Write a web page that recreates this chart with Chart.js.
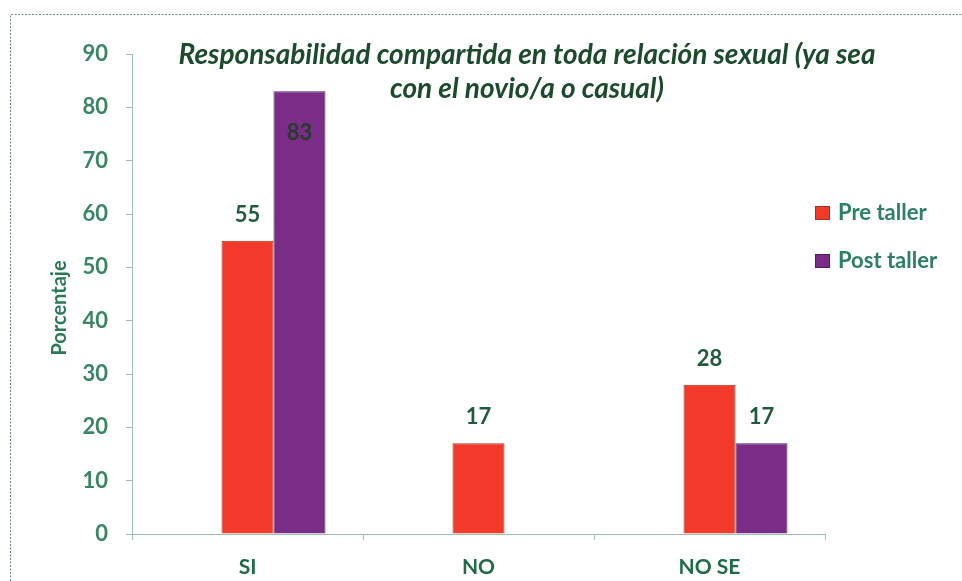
<!DOCTYPE html>
<html>
<head>
<meta charset="utf-8">
<script src="https://cdn.jsdelivr.net/npm/chart.js@4/dist/chart.umd.min.js"></script>
<style>
  html, body { margin: 0; padding: 0; background: #ffffff; }
  #wrap { position: relative; width: 962px; height: 581px; }
</style>
</head>
<body>
<div id="wrap"><canvas id="c" width="962" height="581"></canvas></div>
<script>
// ---- data ----
const categories = ['SI', 'NO', 'NO SE'];
const seriesLabels = ['Pre taller', 'Post taller'];
const preTaller = [55, 17, 28];
const postTaller = [83, null, 17];
const spacerSeries = [null, null, null];
const yTicks = [0, 10, 20, 30, 40, 50, 60, 70, 80, 90];
const titleLines = ['Responsabilidad compartida en toda relación sexual (ya sea', 'con el novio/a o casual)'];
const yAxisTitle = 'Porcentaje';

const FONT = 'Lato, "Open Sans", sans-serif';
const RED = '#f23a2b', RED_BORDER = '#a9321e';
const PURPLE = '#7a2d87', PURPLE_BORDER = '#472060';

const decorPlugin = {
  id: 'decor',
  beforeDraw(chart) {
    const ctx = chart.ctx;
    ctx.save();
    ctx.fillStyle = '#ffffff';
    ctx.fillRect(0, 0, chart.width, chart.height);
    ctx.strokeStyle = '#6f8f80';
    ctx.lineWidth = 1;
    ctx.setLineDash([2, 1.5]);
    ctx.beginPath();
    ctx.moveTo(10.5, chart.height);
    ctx.lineTo(10.5, 14.5);
    ctx.lineTo(chart.width, 14.5);
    ctx.stroke();
    ctx.restore();
  },
  afterDatasetsDraw(chart) {
    const ctx = chart.ctx;
    const yScale = chart.scales.y;
    ctx.save();
    ctx.textAlign = 'center';
    ctx.textBaseline = 'middle';
    ctx.font = 'bold 22px ' + FONT;
    chart.data.datasets.forEach((ds, di) => {
      if (!ds.label) return;
      const meta = chart.getDatasetMeta(di);
      meta.data.forEach((bar, i) => {
        const v = ds.data[i];
        if (v === null || v === undefined) return;
        const inside = v + 8 > yScale.max;
        ctx.fillStyle = inside ? '#263a2e' : '#1f5a3c';
        ctx.fillText(String(v), bar.x, inside ? bar.y + 42 : bar.y - 26);
      });
    });
    ctx.restore();
  },
  afterDraw(chart) {
    const ctx = chart.ctx;
    ctx.save();
    // title, sized so that the first line spans the same width as the reference
    ctx.fillStyle = '#1b4a2c';
    ctx.textAlign = 'center';
    ctx.textBaseline = 'middle';
    ctx.font = 'italic bold 20px ' + FONT;
    const w20 = ctx.measureText(titleLines[0]).width;
    const tSize = Math.min(28, 20 * 725 / w20);
    ctx.font = 'italic bold ' + tSize.toFixed(1) + 'px ' + FONT;
    titleLines.forEach((t, i) => ctx.fillText(t, 527, 55 + i * 34));
    // y-axis title
    ctx.save();
    ctx.translate(60, 308);
    ctx.rotate(-Math.PI / 2);
    ctx.font = 'bold 20px ' + FONT;
    ctx.fillStyle = '#2a7a57';
    ctx.fillText(yAxisTitle, 0, 0);
    ctx.restore();
    // legend
    ctx.textAlign = 'left';
    ctx.font = 'bold 22px ' + FONT;
    let row = 0;
    chart.data.datasets.forEach((ds) => {
      if (!ds.label) return;
      const y = 213 + row * 48;
      ctx.fillStyle = ds.backgroundColor;
      ctx.fillRect(815, y - 7, 15, 14);
      ctx.strokeStyle = ds.borderColor;
      ctx.lineWidth = 1;
      ctx.strokeRect(815.5, y - 6.5, 14, 13);
      ctx.fillStyle = '#2d8064';
      ctx.fillText(ds.label, 838, y);
      row++;
    });
    ctx.restore();
  }
};

new Chart(document.getElementById('c'), {
  type: 'bar',
  data: {
    labels: categories,
    datasets: [
      { label: '', data: spacerSeries, backgroundColor: 'rgba(0,0,0,0)' },
      { label: seriesLabels[0], data: preTaller, backgroundColor: RED, borderColor: RED_BORDER, borderWidth: 1 },
      { label: seriesLabels[1], data: postTaller, backgroundColor: PURPLE, borderColor: PURPLE_BORDER, borderWidth: 1 }
    ]
  },
  options: {
    responsive: false,
    animation: false,
    devicePixelRatio: 1,
    layout: { padding: { top: 54, right: 137, bottom: 0, left: 0 } },
    datasets: { bar: { categoryPercentage: 0.675, barPercentage: 1.0 } },
    plugins: {
      legend: { display: false },
      title: { display: false },
      tooltip: { enabled: false }
    },
    scales: {
      x: {
        afterFit(scale) { scale.height = 47; },
        border: { color: '#9dbdb0', width: 1 },
        grid: { display: true, offset: true, drawOnChartArea: false, drawTicks: true, tickLength: 6, color: '#9dbdb0' },
        ticks: { color: '#1f6b47', font: { family: FONT, size: 21, weight: 'bold' }, padding: 15 }
      },
      y: {
        min: 0,
        max: 90,
        afterFit(scale) { scale.width = 132; },
        afterBuildTicks(scale) { scale.ticks = yTicks.map(v => ({ value: v })); },
        border: { color: '#9dbdb0', width: 1 },
        grid: { display: true, drawOnChartArea: false, drawTicks: true, tickLength: 6, color: '#9dbdb0' },
        ticks: { color: '#3a8566', font: { family: FONT, size: 22, weight: 'bold' }, padding: 18 }
      }
    }
  },
  plugins: [decorPlugin]
});
</script>
</body>
</html>
